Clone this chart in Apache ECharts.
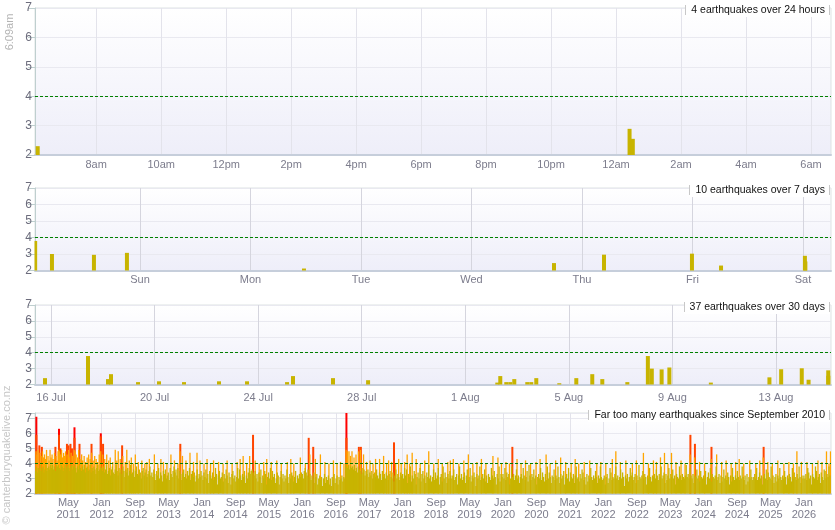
<!DOCTYPE html>
<html><head><meta charset="utf-8">
<script src="https://cdn.jsdelivr.net/npm/echarts@6/dist/echarts.min.js"></script>
<style>html,body{margin:0;padding:0;background:#fff}#c{width:835px;height:530px}</style>
</head><body><div id="c"></div>
<script>
// ================= DATA =================
const panelTitles = ['4 earthquakes over 24 hours', '10 earthquakes over 7 days', '37 earthquakes over 30 days', 'Far too many earthquakes since September 2010'];
const nowLabel = '6:09am';
const creditLabel = '\u00a9 canterburyquakelive.co.nz';

// recent quakes (local time) and magnitudes
const quakeTimes = ['2026-07-15 18:27','2026-07-17 10:18','2026-07-18 04:50','2026-07-18 07:37','2026-07-19 08:40','2026-07-20 04:06','2026-07-21 03:18','2026-07-22 11:44','2026-07-23 13:42','2026-07-25 02:48','2026-07-25 08:20','2026-07-26 21:24','2026-07-28 05:54','2026-08-02 05:40','2026-08-02 08:26','2026-08-02 14:00','2026-08-02 17:42','2026-08-02 21:25','2026-08-03 09:28','2026-08-03 13:10','2026-08-03 17:48','2026-08-04 15:08','2026-08-05 06:54','2026-08-05 21:42','2026-08-06 07:00','2026-08-07 06:12','2026-08-08 01:14','2026-08-08 04:53','2026-08-08 14:00','2026-08-08 21:10','2026-08-10 11:37','2026-08-12 17:55','2026-08-13 04:47','2026-08-13 23:53','2026-08-14 06:12','2026-08-15 00:25','2026-08-15 00:31'];
const quakeMags = [2.4,3.79,2.34,2.65,2.15,2.2,2.15,2.2,2.2,2.15,2.53,2.4,2.27,2.12,2.53,2.15,2.15,2.34,2.15,2.15,2.4,2.08,2.4,2.65,2.34,2.15,3.79,3.0,2.95,3.07,2.12,2.45,2.96,3.02,2.3,2.89,2.55];

// tick labels
const hourTickTimes = ['2026-08-14 08:00','2026-08-14 10:00','2026-08-14 12:00','2026-08-14 14:00','2026-08-14 16:00','2026-08-14 18:00','2026-08-14 20:00','2026-08-14 22:00','2026-08-15 00:00','2026-08-15 02:00','2026-08-15 04:00','2026-08-15 06:00'];
const hourTickLabels = ['8am','10am','12pm','2pm','4pm','6pm','8pm','10pm','12am','2am','4am','6am'];
const dayTickTimes = ['2026-08-09','2026-08-10','2026-08-11','2026-08-12','2026-08-13','2026-08-14','2026-08-15'];
const dayTickLabels = ['Sun','Mon','Tue','Wed','Thu','Fri','Sat'];
const dateTickTimes = ['2026-07-16','2026-07-20','2026-07-24','2026-07-28','2026-08-01','2026-08-05','2026-08-09','2026-08-13'];
const dateTickLabels = ['16 Jul','20 Jul','24 Jul','28 Jul','1 Aug','5 Aug','9 Aug','13 Aug'];
const yearTickLabels = ['May 2011','Jan 2012','Sep 2012','May 2013','Jan 2014','Sep 2014','May 2015','Jan 2016','Sep 2016','May 2017','Jan 2018','Sep 2018','May 2019','Jan 2020','Sep 2020','May 2021','Jan 2022','Sep 2022','May 2023','Jan 2024','Sep 2024','May 2025','Jan 2026'];

// long-term: weekly largest "small" (<4) magnitude, per year
const base2010 = [3.5,3.8,3.4,3.7,3.6,3.9,3.5,3.7,3.8,3.4,3.6,3.9,3.5,3.7,3.8,3.6,3.9];
const base2011 = [3.7,3.9,3.6,3.8,3.5,3.9,3.8,3.9,3.7,3.6,3.9,3.8,3.5,3.7,3.9,3.6,3.8,3.9,3.7,3.5,3.8,3.9,3.6,3.8,3.9,3.7,3.4,3.8,3.6,3.9,3.7,3.5,3.8,3.6,3.9,3.4,3.7,3.8,3.5,3.6,3.9,3.4,3.7,3.5,3.8,3.6,3.3,3.7,3.9,3.5,3.6,3.8];
const base2012 = [3.7,3.5,3.8,3.4,3.6,3.9,3.3,3.5,3.7,3.2,3.6,3.8,3.4,3.3,3.6,3.9,3.5,3.2,3.7,3.4,3.6,3.3,3.8,3.5,3.1,3.6,3.4,3.7,3.2,3.5,3.9,3.3,3.4,3.6,3.1,3.5,3.8,3.3,3.2,3.6,3.4,3.0,3.5,3.7,3.2,3.4,3.6,3.1,3.3,3.5,3.8,3.2];
const base2013 = [3.4,3.1,3.6,3.3,2.9,3.5,3.2,3.7,3.0,3.4,3.2,2.8,3.5,3.3,3.6,3.0,3.2,3.4,2.9,3.7,3.3,3.1,3.5,3.8,3.4,3.6,3.2,3.7,3.0,3.5,3.3,2.9,3.4,3.6,3.1,3.3,3.0,3.5,3.2,3.7,2.9,3.3,3.5,3.1,3.4,2.8,3.2,3.6,3.0,3.3,3.1,3.5];
const base2014 = [3.2,2.9,3.4,3.1,3.6,3.0,3.3,2.7,3.5,3.2,3.0,3.4,2.9,3.1,3.7,3.3,2.6,3.2,3.5,3.0,3.1,3.4,2.8,3.3,3.0,3.6,3.2,2.7,3.4,3.1,2.6,3.3,3.5,3.0,3.2,2.8,3.1,3.7,3.0,3.6,3.2,2.9,3.3,3.1,3.5,2.7,3.2,3.0,3.4,3.7,3.3,3.5];
const base2015 = [3.6,3.4,3.2,3.5,3.0,3.3,2.8,3.4,3.1,3.6,2.7,3.2,3.0,3.5,3.3,2.6,3.1,3.4,3.0,3.7,2.9,3.5,3.1,3.3,2.7,3.0,3.4,3.2,2.6,3.1,3.5,3.0,3.3,2.8,3.2,3.0,3.6,3.1,2.7,3.3,3.0,3.4,3.2,2.8,3.1,3.5,2.7,3.2,3.0,3.3,3.1,3.4];
const base2016 = [3.3,3.0,3.5,3.7,3.4,3.2,3.6,3.1,3.3,2.9,3.2,3.0,3.4,2.7,3.1,3.3,2.6,3.0,3.2,2.9,3.1,2.5,3.0,3.3,2.7,3.1,2.9,3.2,2.6,3.0,2.5,3.1,2.9,3.3,2.7,3.0,3.2,2.6,3.1,2.9,3.0,3.2,2.8,3.1,3.0,3.9,3.8,3.7,3.9,3.6,3.8,3.7];
const base2017 = [3.8,3.6,3.9,3.5,3.7,3.4,3.8,3.6,3.5,3.3,3.7,3.4,3.6,3.2,3.5,3.3,3.6,3.1,3.4,3.2,3.5,3.0,3.3,3.4,3.1,3.6,3.2,3.0,3.4,3.3,2.9,3.5,3.1,3.3,3.0,3.4,3.2,2.9,3.3,3.5,3.1,3.0,3.4,2.8,3.2,3.6,3.0,3.3,3.1,2.9,3.4,3.2];
const base2018 = [3.3,3.0,3.7,3.2,3.6,2.7,3.3,3.1,3.8,2.8,3.2,3.0,3.5,3.3,2.6,3.1,3.4,3.0,3.7,2.8,3.3,3.5,3.0,3.2,2.7,3.4,3.1,3.9,3.0,3.2,2.8,3.1,3.6,2.9,3.4,3.0,3.2,3.7,2.6,3.1,3.3,2.8,3.8,3.0,3.4,3.1,2.7,3.3,3.0,3.5,3.2,3.0];
const base2019 = [3.2,3.6,2.9,3.1,3.3,2.6,3.2,3.8,3.0,3.3,2.9,3.1,3.4,2.7,3.2,3.6,2.9,3.1,3.7,2.8,3.2,3.0,3.4,3.1,2.5,3.3,3.0,3.2,3.8,2.9,3.1,3.3,3.0,3.6,2.8,3.2,2.7,3.3,3.1,2.9,3.7,3.2,3.0,3.5,3.1,2.6,3.3,3.0,3.8,2.8,3.3,3.1];
const base2020 = [3.3,3.0,3.7,2.9,3.4,3.1,3.3,2.6,3.0,3.8,3.1,3.3,2.9,3.2,3.6,3.0,3.2,2.7,3.1,3.3,3.0,3.7,3.2,2.9,3.1,3.5,2.8,3.9,3.2,2.9,3.3,3.1,3.6,3.0,3.2,2.6,3.1,3.3,3.0,3.7,2.9,3.4,3.1,2.8,3.3,2.9,3.8,3.0,3.4,3.1,2.7,3.2];
const base2021 = [3.1,3.6,2.9,3.2,3.0,3.8,3.1,2.7,3.3,3.0,3.2,3.5,2.6,3.1,3.3,3.0,3.7,2.8,3.4,3.1,3.0,3.3,2.7,3.2,3.8,3.0,3.1,2.8,3.3,3.0,3.6,3.4,2.9,3.1,2.6,3.3,2.8,3.2,3.0,3.7,3.1,2.9,3.2,3.0,3.5,3.1,2.7,3.2,3.0,3.8,3.1,2.9];
const base2022 = [3.0,3.2,2.6,3.1,3.3,2.7,3.0,3.7,3.4,2.9,3.1,3.0,3.3,3.8,3.0,3.2,2.9,3.1,3.6,3.0,3.4,3.1,2.5,3.2,3.0,3.3,2.8,3.1,3.7,3.2,3.4,2.9,3.1,3.3,2.7,3.2,2.9,3.9,3.1,3.0,3.2,3.5,3.0,3.3,3.1,2.6,3.2,3.0,3.7,3.1,2.8,3.2];
const base2023 = [3.1,3.3,3.0,3.6,3.2,2.9,3.3,3.1,3.8,3.0,3.2,3.4,2.7,3.3,2.9,3.2,3.7,3.0,3.3,3.1,3.6,3.0,3.2,2.6,3.3,3.1,3.0,3.8,3.2,2.9,3.3,3.1,3.0,3.2,3.9,3.1,3.3,3.0,3.7,3.2,3.0,3.3,2.7,3.2,3.1,3.6,3.0,3.2,2.8,3.5,3.1,3.0];
const base2024 = [3.2,3.0,3.5,2.6,3.1,3.4,3.0,3.7,2.8,3.3,3.1,3.0,3.2,3.8,2.9,3.1,3.3,2.7,3.2,2.8,3.1,3.6,3.0,3.2,2.9,3.4,3.1,2.6,3.2,2.8,3.7,3.1,2.9,3.2,3.0,3.5,3.1,2.9,3.2,3.0,3.8,3.1,2.9,3.2,2.6,3.3,2.8,3.1,3.0,3.6,3.1,2.9];
const base2025 = [3.1,3.3,3.0,3.7,2.9,3.1,3.4,3.0,3.2,2.6,3.1,3.3,3.0,3.6,2.9,3.4,3.1,3.0,3.8,2.9,3.2,2.7,3.1,3.3,2.8,3.2,3.0,3.7,3.1,2.9,3.2,3.0,3.5,3.1,2.6,3.2,3.0,3.3,3.1,2.8,3.7,3.0,3.4,3.1,2.9,3.3,3.0,3.8,3.1,2.7,3.2,3.0];
const base2026 = [3.2,3.0,3.3,2.9,3.7,3.4,3.0,3.2,2.6,3.3,3.1,3.0,3.8,3.5,2.9,3.1,3.3,2.7,3.4,3.1,2.9,3.6,3.5,3.0,3.3,3.1,3.8,3.2];
const baseYears = [[2010.676, base2010],[2011, base2011],[2012, base2012],[2013, base2013],[2014, base2014],[2015, base2015],[2016, base2016],[2017, base2017],[2018, base2018],[2019, base2019],[2020, base2020],[2021, base2021],[2022, base2022],[2023, base2023],[2024, base2024],[2025, base2025],[2026, base2026]];

// long-term: larger quakes [decimal year, magnitude]
const orangeSpikes = [[2010.69,4.8],[2010.71,4.6],[2010.73,4.9],[2010.77,4.7],[2010.79,4.5],[2010.82,4.8],[2010.84,4.4],[2010.86,4.6],[2010.88,4.3],[2010.90,4.9],[2010.93,4.5],[2010.95,4.2],[2010.97,4.9],[2010.99,4.4],
 [2011.01,4.6],[2011.03,4.3],[2011.06,4.7],[2011.09,4.5],[2011.11,4.2],[2011.13,4.8],[2011.142,4.9],[2011.16,4.8],[2011.18,4.6],[2011.20,4.9],[2011.22,4.4],[2011.24,4.7],[2011.26,4.5],[2011.28,4.8],[2011.31,4.6],[2011.34,4.9],[2011.36,4.4],[2011.39,4.7],[2011.42,4.5],[2011.45,4.9],[2011.47,4.8],[2011.49,4.6],[2011.52,4.4],[2011.54,4.9],[2011.57,4.3],[2011.60,4.6],[2011.62,4.2],[2011.65,4.5],[2011.68,4.1],[2011.71,4.4],[2011.74,4.6],[2011.77,4.3],[2011.80,4.7],[2011.83,4.2],[2011.86,4.5],[2011.89,4.3],[2011.92,4.1],[2011.95,4.6],[2011.98,4.8],
 [2012.02,4.6],[2012.06,4.3],[2012.10,4.6],[2012.14,4.2],[2012.17,4.4],[2012.22,4.1],[2012.27,4.9],[2012.30,4.2],[2012.33,4.8],[2012.37,4.3],[2012.42,4.5],[2012.47,4.1],[2012.50,4.9],[2012.55,4.2],[2012.59,4.4],[2012.63,4.0],[2012.67,4.6],[2012.73,4.1],[2012.80,4.2],[2012.86,4.0],[2012.90,4.1],[2012.95,4.3],
 [2013.05,4.6],[2013.12,4.0],[2013.18,4.3],[2013.23,4.1],[2013.30,4.0],[2013.38,4.6],[2013.45,4.2],[2013.52,4.0],[2013.56,4.8],[2013.61,4.5],[2013.68,4.2],[2013.76,4.7],[2013.83,4.1],[2013.90,4.7],[2013.96,4.2],
 [2014.04,4.0],[2014.10,4.3],[2014.17,4.0],[2014.23,4.2],[2014.33,4.1],[2014.42,4.0],[2014.50,4.2],[2014.60,4.0],[2014.70,4.1],[2014.76,4.3],[2014.82,4.5],[2014.89,4.0],[2014.95,4.5],
 [2015.06,4.2],[2015.14,4.0],[2015.23,4.1],[2015.29,4.3],[2015.38,4.1],[2015.49,4.2],[2015.58,4.0],[2015.70,4.1],[2015.77,4.3],[2015.83,4.0],[2015.96,4.4],
 [2016.06,4.0],[2016.15,4.6],[2016.26,4.3],[2016.36,4.6],[2016.45,4.1],[2016.53,4.0],[2016.62,4.2],[2016.69,4.0],[2016.76,4.1],[2016.83,4.0],[2016.872,4.9],[2016.90,4.8],[2016.93,4.8],[2016.96,4.5],[2016.99,4.8],
 [2017.03,4.4],[2017.07,4.6],[2017.12,4.8],[2017.16,4.9],[2017.22,4.6],[2017.28,4.1],[2017.35,4.2],[2017.41,4.0],[2017.46,4.3],[2017.54,4.3],[2017.62,4.5],[2017.68,4.0],[2017.72,4.2],[2017.78,4.1],[2017.86,4.0],[2017.92,4.3],[2017.97,4.0],
 [2018.04,4.1],[2018.09,4.6],[2018.14,4.0],[2018.19,4.7],[2018.27,4.3],[2018.35,4.0],[2018.44,4.2],[2018.52,4.8],[2018.62,4.0],[2018.71,4.3],[2018.79,4.0],[2018.90,4.1],[2018.95,4.2],
 [2019.01,4.3],[2019.12,4.0],[2019.22,4.2],[2019.31,4.6],[2019.40,4.0],[2019.48,4.1],[2019.57,4.3],[2019.66,4.0],[2019.80,4.5],[2019.90,4.4],[2019.97,4.0],
 [2020.06,4.1],[2020.13,4.0],[2020.28,4.3],[2020.36,4.0],[2020.45,4.2],[2020.55,4.0],[2020.66,4.1],[2020.74,4.3],[2020.86,4.6],[2020.94,4.0],
 [2021.05,4.2],[2021.15,4.4],[2021.25,4.1],[2021.36,4.0],[2021.44,4.3],[2021.51,4.0],[2021.62,4.1],[2021.73,4.2],[2021.87,4.0],[2021.95,4.1],
 [2022.05,4.0],[2022.18,4.3],[2022.25,4.8],[2022.34,4.1],[2022.45,4.2],[2022.58,4.0],[2022.66,4.2],[2022.80,4.7],[2022.90,4.0],
 [2023.00,4.2],[2023.06,4.1],[2023.14,4.4],[2023.22,4.7],[2023.29,4.0],[2023.36,4.7],[2023.45,4.1],[2023.55,4.2],[2023.63,4.0],[2023.73,4.6],[2023.82,4.4],[2023.92,4.1],
 [2024.02,4.0],[2024.15,4.3],[2024.26,4.6],[2024.36,4.1],[2024.45,4.2],[2024.55,4.0],[2024.64,4.1],[2024.71,4.3],[2024.80,4.0],[2024.92,4.2],
 [2025.04,4.0],[2025.12,4.2],[2025.19,4.4],[2025.28,4.1],[2025.37,4.0],[2025.48,4.2],[2025.60,4.0],[2025.70,4.1],[2025.79,4.0],[2025.86,4.8],[2025.95,4.1],
 [2026.06,4.1],[2026.17,4.0],[2026.28,4.2],[2026.36,4.1],[2026.45,4.8],[2026.50,4.0],[2026.53,4.8]];
const orangeredSpikes = [[2010.69,5.9],[2010.75,5.2],[2010.80,5.1],[2011.07,5.1],[2011.142,5.9],[2011.17,5.0],[2011.30,5.3],[2011.33,5.2],[2011.37,5.3],[2011.40,5.0],[2011.45,5.7],[2011.55,5.3],[2011.79,5.3],[2011.975,5.8],[2012.02,5.3],[2012.40,5.2],[2013.56,5.3],[2015.01,5.9],[2016.12,5.7],[2016.21,5.1],[2016.872,5.7],[2017.12,5.1],[2017.16,5.1],[2017.82,5.4],[2020.18,5.1],[2023.73,5.9],[2023.82,5.3],[2024.15,5.1],[2025.19,5.1]];
const redSpikes = [[2010.69,7.1],[2011.142,6.3],[2011.45,6.4],[2011.975,6.0],[2016.872,7.8]];

// ================= LAYOUT / STYLE =================
const FONT = '"Liberation Sans", Arial, Helvetica, sans-serif';
const gridTops = [8, 188, 305, 413];
const gridHeights = [147, 82.5, 79.5, 80.5];
const yMax = [7, 7, 7, 7.35];
const ranges = [['2026-08-14 06:07','2026-08-15 06:37'], ['2026-08-08 01:12','2026-08-15 06:05'], ['2026-07-15 09:10','2026-08-15 02:59']];
const longRange = [2010.67, 2026.54];
const MONTHS = ['Jan','Feb','Mar','Apr','May','Jun','Jul','Aug','Sep','Oct','Nov','Dec'];

function ts(s) {
  const [d, t = '00:00'] = s.split(' ');
  const [y, m, dd] = d.split('-').map(Number);
  const [h, mi] = t.split(':').map(Number);
  return Date.UTC(y, m - 1, dd, h, mi);
}
function measure(text, size) {
  const c = document.createElement('canvas').getContext('2d');
  c.font = size + 'px ' + FONT;
  return c.measureText(text).width;
}

const quakeData = quakeTimes.map((t, i) => [ts(t), quakeMags[i]]);

const bg = { type: 'linear', x: 0, y: 0, x2: 0, y2: 1, colorStops: [{ offset: 0, color: '#ffffff' }, { offset: 1, color: '#eeeef9' }] };
const grids = gridTops.map((t, i) => ({ left: 35, right: 4, top: t, height: gridHeights[i], show: true, backgroundColor: bg, borderColor: '#dde3e3', borderWidth: 1 }));

const threshold = { silent: true, symbol: ['none', 'none'], label: { show: false }, lineStyle: { color: '#008000', type: [3, 2], width: 1 }, data: [{ yAxis: 4 }], animation: false };

const vSplit = ['#e3e3eb', '#d5d5de', '#d5d5de', '#e3e3eb'];
const labMargins = [4, 4, 8, 3];
const tickSets = [[hourTickTimes, hourTickLabels], [dayTickTimes, dayTickLabels], [dateTickTimes, dateTickLabels]];

const xAxes = tickSets.map(([times, labels], i) => {
  const vals = times.map(ts);
  const map = {}; vals.forEach((v, k) => { map[v] = labels[k]; });
  return {
    type: 'value', gridIndex: i, min: ts(ranges[i][0]), max: ts(ranges[i][1]), scale: true,
    axisLine: { show: true, onZero: false, lineStyle: { color: '#c6cedb', width: 2 } },
    axisTick: { show: false, customValues: vals },
    axisLabel: { customValues: vals, formatter: v => map[v] || '', color: '#7c7c8c', fontSize: 11, fontFamily: FONT, margin: labMargins[i], hideOverlap: false },
    splitLine: { show: true, lineStyle: { color: vSplit[i], width: 1 } }
  };
});
const longVals = yearTickLabels.map(l => { const [m, y] = l.split(' '); return +y + MONTHS.indexOf(m) / 12; });
const longMap = {}; longVals.forEach((v, k) => { longMap[v.toFixed(3)] = yearTickLabels[k].replace(' ', '\n'); });
xAxes.push({
  type: 'value', gridIndex: 3, min: longRange[0], max: longRange[1], scale: true,
  axisLine: { show: true, onZero: false, lineStyle: { color: '#c6cedb', width: 2 } },
  axisTick: { show: false, customValues: longVals },
  axisLabel: { customValues: longVals, formatter: v => longMap[v.toFixed(3)] || '', color: '#7c7c8c', fontSize: 11, lineHeight: 12, fontFamily: FONT, margin: labMargins[3], hideOverlap: false },
  splitLine: { show: true, lineStyle: { color: vSplit[3], width: 1 } }
});

const yAxes = gridTops.map((_, i) => ({
  type: 'value', gridIndex: i, min: 2, max: yMax[i], interval: 1,
  axisLine: { show: true, onZero: false, lineStyle: { color: '#bfcfcf' } },
  axisTick: { show: true, length: 7, lineStyle: { color: '#bfcfcf' } },
  axisLabel: { color: '#6c6c7c', fontSize: 12, fontFamily: FONT, margin: 3, formatter: v => Number.isInteger(v) ? String(v) : '' },
  splitLine: { show: true, lineStyle: { color: '#e9e9f0' } }
}));

const series = [0, 1, 2].map(i => ({
  type: 'bar', xAxisIndex: i, yAxisIndex: i, data: quakeData, barWidth: 4, clip: true,
  itemStyle: { color: '#c8b400' }, markLine: threshold, animation: false
}));

const yellowData = [];
baseYears.forEach(([start, arr]) => arr.forEach((v, k) => yellowData.push([start + k / 52, v])));
const longSeries = [
  [redSpikes, '#ff0000', 2],
  [orangeredSpikes, '#ff4500', 2],
  [orangeSpikes, '#ffa500', 1.3],
  [yellowData, '#c8b400', 1.3]
];
longSeries.forEach(([data, color, w], k) => {
  const s = { type: 'bar', xAxisIndex: 3, yAxisIndex: 3, data, barWidth: w, barGap: '-100%', clip: true, itemStyle: { color }, animation: false };
  if (k === longSeries.length - 1) s.markLine = threshold;
  series.push(s);
});

// title boxes and side texts
const TITLE_SIZE = 10.5;
const graphics = [];
panelTitles.forEach((t, i) => {
  const w = measure(t, TITLE_SIZE);
  const right = 830, cy = gridTops[i] + 2;
  const x0 = Math.round(right - w - 11);
  graphics.push({ type: 'rect', z: 100, shape: { x: x0, y: cy - 7, width: right - x0, height: 14 }, style: { fill: '#ffffff' } });
  graphics.push({ type: 'line', z: 101, shape: { x1: x0 + 0.5, y1: cy - 5, x2: x0 + 0.5, y2: cy + 5 }, style: { stroke: '#c8c8c8', lineWidth: 1 } });
  graphics.push({ type: 'line', z: 101, shape: { x1: right - 0.5, y1: cy - 5, x2: right - 0.5, y2: cy + 5 }, style: { stroke: '#c8c8c8', lineWidth: 1 } });
  graphics.push({ type: 'text', z: 102, x: right - 5, y: cy + 0.5, style: { text: t, font: TITLE_SIZE + 'px ' + FONT, fill: '#111111', align: 'right', verticalAlign: 'middle' } });
});
graphics.push({ type: 'text', z: 102, x: 10, y: 32, rotation: Math.PI / 2, style: { text: nowLabel, font: '11px ' + FONT, fill: '#b4b4b4', align: 'center', verticalAlign: 'middle' } });
graphics.push({ type: 'text', z: 102, x: 7, y: 455, rotation: Math.PI / 2, style: { text: creditLabel, font: '11px ' + FONT, fill: '#c6c6c6', align: 'center', verticalAlign: 'middle' } });

const chart = echarts.init(document.getElementById('c'), null, { renderer: 'canvas' });
chart.setOption({
  animation: false,
  backgroundColor: '#ffffff',
  textStyle: { fontFamily: FONT },
  grid: grids,
  xAxis: xAxes,
  yAxis: yAxes,
  series,
  graphic: graphics
});
</script>
</body></html>
